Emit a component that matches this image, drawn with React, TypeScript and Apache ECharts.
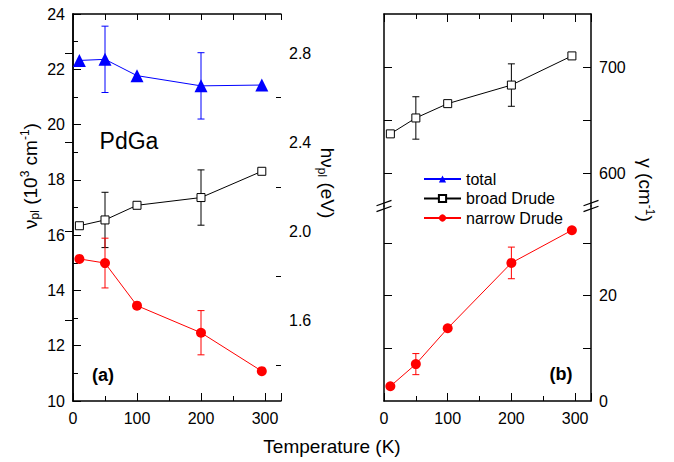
import React, { useEffect, useRef } from "react";
import * as echarts from "echarts";

const temps = [10, 50, 100, 200, 295];
const totalNu = [22.32, 22.36, 21.77, 21.4, 21.43];
const totalNuErr = [0, 1.2, 0, 1.2, 0];
const broadNu = [16.34, 16.55, 17.08, 17.36, 18.31];
const broadNuErr = [0, 1.0, 0, 1.0, 0];
const narrowNu = [15.14, 14.99, 13.45, 12.47, 11.08];
const narrowNuErr = [0, 0.9, 0, 0.8, 0];
const broadGamma = [637, 652, 665.5, 683, 710.5];
const broadGammaErr = [0, 20, 0, 20, 0];
const narrowGamma = [2.8, 7.0, 13.8, 26.2, 32.4];
const narrowGammaErr = [0, 2, 0, 3, 0];

const xTickLabels = [0, 100, 200, 300];
const evMajor = [1.6, 2.0, 2.4, 2.8];
const evMinor = [1.4, 1.8, 2.2, 2.6];
const gammaHighLabels = [600, 700];
const gammaHighTicks = [600, 650, 700];
const gammaLowLabels = [0, 20];
const gammaLowTicks = [10, 20, 30];

const NU_MIN = 10;
const NU_MAX = 24;
const EV_PER_KCM = 0.123984;
const EV_MIN = NU_MIN * EV_PER_KCM;
const EV_MAX = NU_MAX * EV_PER_KCM;
const T_MAX = 325;
const G_HIGH_MIN = 569;
const G_HIGH_MAX = 750;
const G_LOW_MIN = 0;
const G_LOW_MAX = 37;

const FONT = "'Liberation Sans', Arial, sans-serif";
const BLUE = "#0000ff";
const RED = "#ff0000";
const BLACK = "#000000";

function pairs(ys: number[]) {
  return temps.map((t, i) => [t, ys[i]]);
}
function errs(ys: number[], es: number[]) {
  return temps
    .map((t, i) => [t, ys[i], es[i]])
    .filter((d) => d[2] > 0);
}

function errorSeries(name: string, data: number[][], color: string, xi: number, yi: number) {
  return {
    type: "custom",
    name: name + "-err",
    xAxisIndex: xi,
    yAxisIndex: yi,
    z: 1,
    silent: true,
    encode: { x: 0, y: 1 },
    data,
    renderItem: (params: any, api: any) => {
      const x = api.value(0);
      const y = api.value(1);
      const e = api.value(2);
      const top = api.coord([x, y + e]);
      const bot = api.coord([x, y - e]);
      const hw = 3.5;
      const st = { stroke: color, lineWidth: 1 };
      return {
        type: "group",
        children: [
          { type: "line", shape: { x1: top[0], y1: top[1], x2: bot[0], y2: bot[1] }, style: st },
          { type: "line", shape: { x1: top[0] - hw, y1: top[1], x2: top[0] + hw, y2: top[1] }, style: st },
          { type: "line", shape: { x1: bot[0] - hw, y1: bot[1], x2: bot[0] + hw, y2: bot[1] }, style: st },
        ],
      };
    },
  };
}

function lineSeries(name: string, data: number[][], color: string, symbol: string, size: number, filled: boolean, xi: number, yi: number) {
  return {
    type: "line",
    name,
    xAxisIndex: xi,
    yAxisIndex: yi,
    z: 3,
    data,
    symbol,
    symbolSize: size,
    showSymbol: true,
    lineStyle: { color, width: 1 },
    itemStyle: filled
      ? { color, borderWidth: 0 }
      : { color: "#ffffff", borderColor: color, borderWidth: 1 },
    color,
    emphasis: { disabled: true },
  };
}

const axisLineStyle = { show: true, lineStyle: { color: BLACK, width: 1.5 } };
const labelStyle = { color: BLACK, fontSize: 16, fontFamily: FONT };

function breakMarks(x: number, c: number) {
  const out: any[] = [];
  [-2.9, 2.9].forEach((d) => {
    out.push({
      type: "line",
      shape: { x1: x - 7.5, y1: c + d + 2.7, x2: x + 7.5, y2: c + d - 2.7 },
      style: { stroke: BLACK, lineWidth: 1.2 },
      z: 10,
    });
  });
  return out;
}

export default function App() {
  const ref = useRef<HTMLDivElement>(null);
  useEffect(() => {
    if (!ref.current) return;
    const chart = echarts.init(ref.current, undefined, { renderer: "svg" });

    const gridTop = 14;
    const gridBottomY = 401;
    const breakY = 206;

    const option: any = {
      animation: false,
      backgroundColor: "#ffffff",
      textStyle: { fontFamily: FONT },
      grid: [
        { left: 73, top: gridTop, width: 208, height: gridBottomY - gridTop, outerBoundsMode: "none" },
        { left: 384, top: gridTop, width: 207, height: breakY - gridTop, outerBoundsMode: "none" },
        { left: 384, top: breakY, width: 207, height: gridBottomY - breakY, outerBoundsMode: "none" },
      ],
      xAxis: [
        {
          type: "value", gridIndex: 0, position: "bottom", min: 0, max: T_MAX, interval: 100,
          axisLine: axisLineStyle,
          axisTick: { inside: true, length: 8, lineStyle: { color: BLACK } },
          minorTick: { show: true, splitNumber: 2, length: 5, lineStyle: { color: BLACK } },
          axisLabel: { ...labelStyle, margin: 9, customValues: xTickLabels },
          splitLine: { show: false },
        },
        {
          type: "value", gridIndex: 0, position: "top", min: 0, max: T_MAX, interval: 50,
          axisLine: axisLineStyle,
          axisTick: { inside: true, length: 6, lineStyle: { color: BLACK } },
          axisLabel: { show: false },
          splitLine: { show: false },
        },
        {
          type: "value", gridIndex: 1, position: "top", min: 0, max: T_MAX, interval: 100,
          axisLine: axisLineStyle,
          axisTick: { inside: true, length: 8, lineStyle: { color: BLACK } },
          minorTick: { show: true, splitNumber: 2, length: 5, lineStyle: { color: BLACK } },
          axisLabel: { show: false },
          splitLine: { show: false },
        },
        {
          type: "value", gridIndex: 2, position: "bottom", min: 0, max: T_MAX, interval: 100,
          axisLine: axisLineStyle,
          axisTick: { inside: true, length: 8, lineStyle: { color: BLACK } },
          minorTick: { show: true, splitNumber: 2, length: 5, lineStyle: { color: BLACK } },
          axisLabel: { ...labelStyle, margin: 9, customValues: xTickLabels },
          splitLine: { show: false },
        },
      ],
      yAxis: [
        {
          type: "value", gridIndex: 0, position: "left", min: NU_MIN, max: NU_MAX, interval: 2,
          axisLine: axisLineStyle,
          axisTick: { inside: true, length: 8, lineStyle: { color: BLACK } },
          minorTick: { show: true, splitNumber: 2, length: 5, lineStyle: { color: BLACK } },
          axisLabel: { ...labelStyle, margin: 8 },
          splitLine: { show: false },
        },
        {
          type: "value", gridIndex: 0, position: "right", min: EV_MIN, max: EV_MAX,
          axisLine: axisLineStyle,
          axisTick: { inside: true, length: 8, customValues: evMajor, lineStyle: { color: BLACK } },
          axisLabel: { ...labelStyle, margin: 8, customValues: evMajor, formatter: (v: number) => v.toFixed(1) },
          splitLine: { show: false },
        },
        {
          type: "value", gridIndex: 1, position: "left", min: G_HIGH_MIN, max: G_HIGH_MAX,
          axisLine: axisLineStyle,
          axisTick: { inside: true, length: 8, customValues: gammaHighTicks, lineStyle: { color: BLACK } },
          axisLabel: { show: false },
          splitLine: { show: false },
        },
        {
          type: "value", gridIndex: 1, position: "right", min: G_HIGH_MIN, max: G_HIGH_MAX,
          axisLine: axisLineStyle,
          axisTick: { inside: true, length: 8, customValues: gammaHighTicks, lineStyle: { color: BLACK } },
          axisLabel: { ...labelStyle, margin: 8, customValues: gammaHighLabels },
          splitLine: { show: false },
        },
        {
          type: "value", gridIndex: 2, position: "left", min: G_LOW_MIN, max: G_LOW_MAX,
          axisLine: axisLineStyle,
          axisTick: { inside: true, length: 8, customValues: gammaLowTicks, lineStyle: { color: BLACK } },
          axisLabel: { show: false },
          splitLine: { show: false },
        },
        {
          type: "value", gridIndex: 2, position: "right", min: G_LOW_MIN, max: G_LOW_MAX,
          axisLine: axisLineStyle,
          axisTick: { inside: true, length: 8, customValues: gammaLowTicks, lineStyle: { color: BLACK } },
          axisLabel: { ...labelStyle, margin: 8, customValues: gammaLowLabels },
          splitLine: { show: false },
        },
        {
          type: "value", gridIndex: 0, position: "right", min: EV_MIN, max: EV_MAX,
          axisLine: { show: false },
          axisTick: { inside: true, length: 5, customValues: evMinor, lineStyle: { color: BLACK } },
          axisLabel: { show: false },
          splitLine: { show: false },
        },
      ],
      legend: {
        orient: "vertical",
        left: 418,
        top: 166,
        itemWidth: 37,
        itemHeight: 9,
        itemGap: 3.5,
        textStyle: { fontSize: 16, fontFamily: FONT, color: BLACK, lineHeight: 16 },
        data: ["total", "broad Drude", "narrow Drude"],
        selectedMode: false,
      },
      series: [
        errorSeries("total", errs(totalNu, totalNuErr), BLUE, 0, 0),
        errorSeries("broad Drude", errs(broadNu, broadNuErr), BLACK, 0, 0),
        errorSeries("narrow Drude", errs(narrowNu, narrowNuErr), RED, 0, 0),
        errorSeries("broad Drude", errs(broadGamma, broadGammaErr), BLACK, 2, 2),
        errorSeries("narrow Drude", errs(narrowGamma, narrowGammaErr), RED, 3, 4),
        lineSeries("total", pairs(totalNu), BLUE, "triangle", 13, true, 0, 0),
        lineSeries("broad Drude", pairs(broadNu), BLACK, "rect", 8, false, 0, 0),
        lineSeries("narrow Drude", pairs(narrowNu), RED, "circle", 10, true, 0, 0),
        lineSeries("broad Drude", pairs(broadGamma), BLACK, "rect", 8, false, 2, 2),
        lineSeries("narrow Drude", pairs(narrowGamma), RED, "circle", 10, true, 3, 4),
      ],
      graphic: [
        ...breakMarks(384, breakY),
        ...breakMarks(591, breakY),
        {
          type: "text", x: 129, y: 141, z: 10,
          style: { text: "PdGa", fontSize: 23, fontFamily: FONT, fill: BLACK, align: "center", verticalAlign: "middle" },
        },
        {
          type: "text", x: 103, y: 375, z: 10,
          style: { text: "(a)", fontSize: 18, fontWeight: "bold", fontFamily: FONT, fill: BLACK, align: "center", verticalAlign: "middle" },
        },
        {
          type: "text", x: 561, y: 374, z: 10,
          style: { text: "(b)", fontSize: 18, fontWeight: "bold", fontFamily: FONT, fill: BLACK, align: "center", verticalAlign: "middle" },
        },
        {
          type: "text", x: 30, y: 176, rotation: Math.PI / 2, z: 10,
          style: {
            text: "ν{sub|pl} (10{sup|3} cm{sup|-1})",
            fontSize: 19, fontFamily: FONT, fill: BLACK, align: "center", verticalAlign: "middle",
            rich: {
              sub: { fontSize: 12, fontFamily: FONT, fill: BLACK, padding: [10, 0, 0, 0] },
              sup: { fontSize: 12, fontFamily: FONT, fill: BLACK, padding: [0, 0, 10, 0] },
            },
          },
        },
        {
          type: "text", x: 327, y: 183, rotation: -Math.PI / 2, z: 10,
          style: {
            text: "hν{sub|pl} (eV)",
            fontSize: 19, fontFamily: FONT, fill: BLACK, align: "center", verticalAlign: "middle",
            rich: {
              sub: { fontSize: 12, fontFamily: FONT, fill: BLACK, padding: [10, 0, 0, 0] },
            },
          },
        },
        {
          type: "text", x: 645, y: 190, rotation: -Math.PI / 2, z: 10,
          style: {
            text: "γ (cm{sup|-1})",
            fontSize: 19, fontFamily: FONT, fill: BLACK, align: "center", verticalAlign: "middle",
            rich: {
              sup: { fontSize: 12, fontFamily: FONT, fill: BLACK, padding: [0, 0, 10, 0] },
            },
          },
        },
        {
          type: "text", x: 332, y: 446, z: 10,
          style: { text: "Temperature (K)", fontSize: 19, fontFamily: FONT, fill: BLACK, align: "center", verticalAlign: "middle" },
        },
      ],
    };

    chart.setOption(option);
    return () => chart.dispose();
  }, []);

  return (
    <div
      ref={ref}
      style={{ position: "absolute", left: 0, top: 0, width: 674, height: 462, background: "#fff" }}
    />
  );
}
